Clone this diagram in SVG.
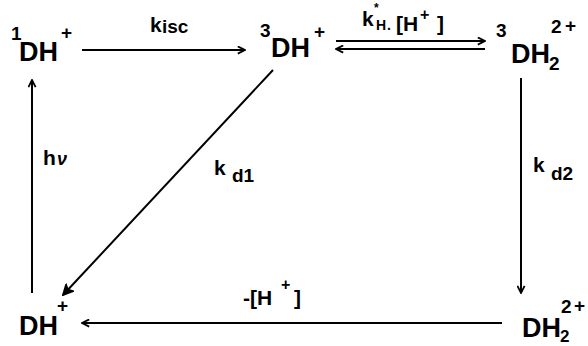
<svg xmlns="http://www.w3.org/2000/svg" width="588" height="346" viewBox="0 0 588 346">
<style>
  text { font-family: "Liberation Sans", Arial, sans-serif; fill: #000; }
  .sp { font-size: 27px; font-weight: bold; }
  .sup { font-size: 19px; font-weight: bold; }
  .lab { font-size: 21px; font-weight: bold; }
  .sub { font-size: 19px; font-weight: bold; }
  .ln { stroke: #000; stroke-width: 2; fill: none; }
</style>
<defs>
  <marker id="ah" viewBox="0 0 10 10" refX="9" refY="5" markerWidth="9" markerHeight="9" markerUnits="userSpaceOnUse" orient="auto">
    <path d="M1,1 L9,5 L1,9" fill="none" stroke="#000" stroke-width="2"/>
  </marker>
  <marker id="ahb" viewBox="0 0 10 10" refX="9" refY="5" markerWidth="12" markerHeight="12" markerUnits="userSpaceOnUse" orient="auto">
    <path d="M1,1 L9,5 L1,9 L3,5 Z" fill="#000" stroke="#000" stroke-width="1.5"/>
  </marker>
</defs>
<rect width="588" height="346" fill="#fff"/>

<g id="n1DH">
  <text class="sup" x="11" y="40">1</text>
  <text class="sp" x="19" y="61">DH</text>
  <text class="sup" x="61" y="39">+</text>
</g>
<g id="n3DH">
  <text class="sup" x="260" y="37">3</text>
  <text class="sp" x="271" y="57">DH</text>
  <text class="sup" x="314" y="38">+</text>
</g>
<g id="n3DH2">
  <text class="sup" x="496" y="37">3</text>
  <text class="sp" x="511" y="63">DH</text>
  <text class="sup" x="549" y="70">2</text>
  <text class="sup" x="551" y="33">2</text>
  <text class="sup" x="565" y="32">+</text>
</g>
<g id="nDH2">
  <text class="sp" x="522" y="337">DH</text>
  <text x="560" y="342" font-size="17" font-weight="bold">2</text>
  <text class="sup" x="561" y="313">2</text>
  <text class="sup" x="574" y="312">+</text>
</g>
<g id="nDH">
  <text class="sp" x="19" y="335">DH</text>
  <text class="sup" x="57" y="312">+</text>
</g>

<g id="connectors">
  <line class="ln" x1="82" y1="50" x2="245" y2="50" marker-end="url(#ah)"/>
  <line class="ln" x1="336" y1="41" x2="485" y2="41" marker-end="url(#ah)"/>
  <line class="ln" x1="485" y1="49" x2="336" y2="49" marker-end="url(#ah)"/>
  <line class="ln" x1="521" y1="78" x2="521" y2="293" marker-end="url(#ah)"/>
  <line class="ln" x1="502" y1="323" x2="82" y2="323" marker-end="url(#ah)"/>
  <line class="ln" x1="32" y1="293" x2="32" y2="80" marker-end="url(#ah)"/>
  <line class="ln" x1="273" y1="70" x2="63" y2="295" stroke-width="3" marker-end="url(#ahb)"/>
</g>

<g id="labels">
  <text class="lab" x="150" y="32">k</text>
  <text class="sub" x="162" y="33">isc</text>

  <text class="lab" x="362" y="26" font-size="22">k</text>
  <text x="374" y="12" font-size="12" font-weight="bold">*</text>
  <text x="376" y="30" font-size="14" font-weight="bold">H</text>
  <text x="387" y="30" font-size="14" font-weight="bold">.</text>
  <text class="lab" x="396" y="31" font-size="22">[H</text>
  <text x="420" y="20" font-size="16" font-weight="bold">+</text>
  <text class="lab" x="437" y="31" font-size="22">]</text>

  <text class="lab" x="214" y="175">k</text>
  <text class="sub" x="232" y="182">d1</text>

  <text class="lab" x="533" y="172">k</text>
  <text class="sub" x="551" y="180">d2</text>

  <text class="lab" x="43" y="165">h</text>
  <text x="57" y="165" font-size="18" font-style="italic" font-weight="bold">ν</text>

  <text class="lab" x="243" y="305">-[H</text>
  <text x="281" y="290" font-size="16" font-weight="bold">+</text>
  <text class="lab" x="294" y="305">]</text>
</g>
</svg>
